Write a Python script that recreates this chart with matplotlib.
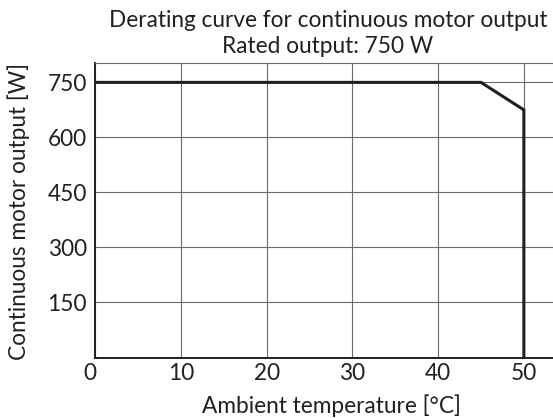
import matplotlib

matplotlib.use("Agg")

import matplotlib.pyplot as plt
import matplotlib.transforms as mtransforms

# derating curve: ambient temperature [°C] vs continuous output [W]
temp_c = [0, 45, 50, 50]
output_w = [750, 750, 675, 0]

x_ticks = [0, 10, 20, 30, 40, 50]
y_ticks = [150, 300, 450, 600, 750]

title_lines = ["Derating curve for continuous motor output", "Rated output: 750 W"]
x_label = "Ambient temperature [°C]"
y_label = "Continuous motor output [W]"

ink = "#231f20"
fs = 16.3
W, H = 553, 418

plt.rcParams["font.family"] = ["Lato", "DejaVu Sans"]

fig = plt.figure(figsize=(W / 100, H / 100), dpi=100)
ax = fig.add_axes([95.2 / W, 1 - 357.5 / H, 1 - 95.2 / W, (357.5 - 63.3) / H])

ax.plot(temp_c, output_w, color=ink, linewidth=2.2, solid_joinstyle="miter", zorder=3)

ax.set_xlim(0, 53.4)
ax.set_ylim(0, 802)
ax.set_xticks(x_ticks)
ax.set_yticks(y_ticks)
ax.tick_params(length=0, labelsize=fs, colors=ink)
ax.tick_params(axis="x", pad=4)
ax.tick_params(axis="y", pad=6)
ax.grid(True, color="#6a6a6a", linewidth=0.8)
ax.set_axisbelow(True)

# the "0" label sits a little left of the axis in the original
lbl0 = ax.get_xticklabels()[0]
lbl0.set_transform(lbl0.get_transform() + mtransforms.ScaledTranslation(-5 / 100, 0, fig.dpi_scale_trans))

for s in ["left", "bottom"]:
    ax.spines[s].set_linewidth(1.4)
    ax.spines[s].set_color(ink)
ax.spines["top"].set_color("#6a6a6a")
ax.spines["top"].set_linewidth(0.8)
ax.spines["right"].set_visible(False)

fig.text(328 / W, 1 - 26.7 / H, title_lines[0], ha="center", va="baseline", fontsize=fs, color=ink)
fig.text(328 / W, 1 - 53 / H, title_lines[1], ha="center", va="baseline", fontsize=fs, color=ink)
fig.text(331.5 / W, 1 - 413 / H, x_label, ha="center", va="baseline", fontsize=fs, color=ink)
fig.text(26.5 / W, 1 - 211.5 / H, y_label, ha="center", va="baseline", rotation=90,
         rotation_mode="anchor", fontsize=fs, color=ink)

fig.savefig("out.png", dpi=100)
plt.close(fig)
